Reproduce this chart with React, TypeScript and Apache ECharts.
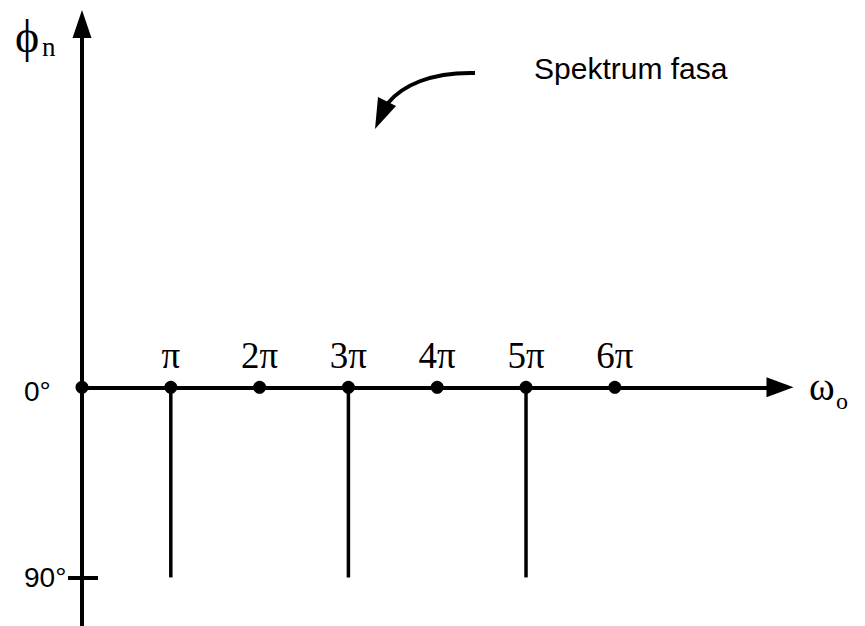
import React, { useEffect, useRef } from "react";
import * as echarts from "echarts";

// Harmonic index n (frequency n·π) and the phase of each component in degrees
const harmonics = [0, 1, 2, 3, 4, 5, 6];
const harmonicLabels = ["", "π", "2π", "3π", "4π", "5π", "6π"];
const phaseDeg = [0, -90, 0, -90, 0, -90, 0];

// Phase axis ticks and their printed labels
const yTickValues = [0, -90];
const yTickLabels = ["0°", "90°"];

const SERIF = '"Liberation Serif", "Times New Roman", "DejaVu Serif", serif';
const SANS = '"Liberation Sans", Arial, Helvetica, sans-serif';

export default function App() {
  const ref = useRef<HTMLDivElement>(null);

  useEffect(() => {
    if (!ref.current) return;
    const chart = echarts.init(ref.current, null, { renderer: "svg" });

    const axisStroke = { color: "#000", width: 4 };

    chart.setOption({
      animation: false,
      backgroundColor: "#fff",
      grid: { left: 82, right: 85, top: 24, bottom: 0 },
      xAxis: {
        type: "value",
        min: 0,
        max: 7.86,
        axisLine: {
          show: true,
          onZero: true,
          symbol: ["none", "triangle"],
          symbolSize: [20, 27],
          lineStyle: axisStroke,
        },
        axisTick: { show: false },
        axisLabel: { show: false },
        splitLine: { show: false },
      },
      yAxis: [
        {
          type: "value",
          min: -113,
          max: 172,
          axisLine: {
            show: true,
            onZero: true,
            symbol: ["none", "triangle"],
            symbolSize: [19, 28],
            lineStyle: axisStroke,
          },
          axisTick: {
            show: true,
            customValues: [-90],
            length: 14,
            lineStyle: axisStroke,
          },
          axisLabel: {
            show: true,
            customValues: yTickValues,
            margin: 58,
            align: "left",
            color: "#000",
            fontFamily: SANS,
            fontSize: 28,
            formatter: (v: number) => {
              const i = yTickValues.indexOf(v);
              const t = i >= 0 ? yTickLabels[i] : "";
              return v === 0 ? "{lo|" + t + "}" : "{hi|" + t + "}";
            },
            rich: {
              lo: {
                fontFamily: SANS,
                fontSize: 28,
                color: "#000",
                padding: [8, 0, 0, 0],
              },
              hi: {
                fontFamily: SANS,
                fontSize: 28,
                color: "#000",
              },
            },
          },
          splitLine: { show: false },
        },
        {
          // inner half of the -90° tick, crossing the axis
          type: "value",
          min: -113,
          max: 172,
          position: "left",
          axisLine: { show: false, onZero: true },
          axisTick: {
            show: true,
            inside: true,
            customValues: [-90],
            length: 16,
            lineStyle: axisStroke,
          },
          axisLabel: { show: false },
          splitLine: { show: false },
        },
      ],
      series: [
        {
          type: "bar",
          silent: true,
          barWidth: 3.5,
          itemStyle: { color: "#000" },
          data: harmonics.map((h, i) => [h, phaseDeg[i]]),
        },
        {
          type: "scatter",
          symbol: "circle",
          symbolSize: 13,
          itemStyle: { color: "#000", opacity: 1 },
          data: harmonics.map((h) => [h, 0]),
          label: {
            show: true,
            position: "top",
            distance: 7,
            color: "#000",
            fontFamily: SERIF,
            fontSize: 37,
            formatter: (p: any) => harmonicLabels[p.dataIndex],
          },
          z: 5,
        },
      ],
      graphic: [
        {
          type: "text",
          x: 534,
          y: 68,
          style: {
            text: "Spektrum fasa",
            fontFamily: SANS,
            fontSize: 30,
            fill: "#000",
            align: "left",
            verticalAlign: "middle",
          },
        },
        {
          type: "bezierCurve",
          shape: { x1: 475, y1: 73, cpx1: 430, cpy1: 72, cpx2: 402, cpy2: 86, x2: 388, y2: 103 },
          style: { stroke: "#000", lineWidth: 4, fill: "none" },
        },
        {
          type: "polygon",
          shape: { points: [[375, 129], [378, 97], [396, 106]] },
          style: { fill: "#000" },
        },
        {
          type: "text",
          x: 15,
          y: 36,
          style: { text: "ϕ", fontFamily: SERIF, fontSize: 46, fill: "#000", align: "left", verticalAlign: "middle" },
        },
        {
          type: "text",
          x: 42,
          y: 47,
          style: { text: "n", fontFamily: SERIF, fontSize: 27, fill: "#000", align: "left", verticalAlign: "middle" },
        },
        {
          type: "text",
          x: 809,
          y: 386,
          style: { text: "ω", fontFamily: SERIF, fontSize: 39, fill: "#000", align: "left", verticalAlign: "middle" },
        },
        {
          type: "text",
          x: 836,
          y: 401,
          style: { text: "o", fontFamily: SERIF, fontSize: 24, fill: "#000", align: "left", verticalAlign: "middle" },
        },
      ],
    });

    return () => chart.dispose();
  }, []);

  return (
    <div
      ref={ref}
      style={{ position: "fixed", left: 0, top: 0, width: 865, height: 626, background: "#fff" }}
    />
  );
}
